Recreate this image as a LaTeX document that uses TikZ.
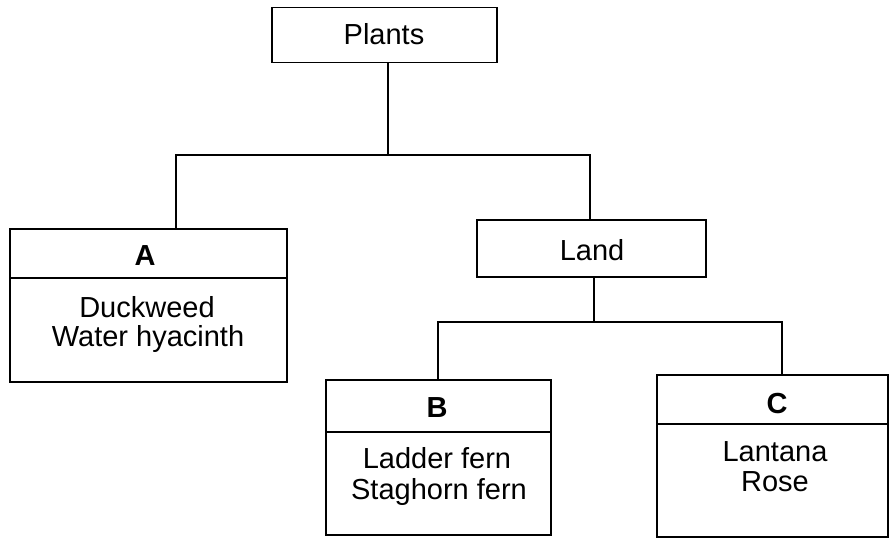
\documentclass[tikz,border=0pt]{standalone}
\usepackage{fontspec}
\setmainfont{Liberation Sans}
\begin{document}
\begin{tikzpicture}[x=1pt,y=-1pt,
  line width=1.5pt,
  box/.style={draw, rectangle, inner sep=0pt, line width=1.5pt},
  lbl/.style={font=\fontsize{29}{31}\selectfont, inner sep=0pt, anchor=base},
  hdr/.style={lbl, font=\fontsize{29}{31}\selectfont\bfseries},
  conn/.style={draw, line width=1.5pt}]
\useasboundingbox (0,0) rectangle (893,543);
% boxes
\node[box, minimum width=225pt, minimum height=55pt] (plants) at (384.5,35) {};
\node[box, minimum width=277pt, minimum height=153pt] (A) at (148.5,305.5) {};
\node[box, minimum width=229pt, minimum height=57pt] (land) at (591.5,248.5) {};
\node[box, minimum width=225pt, minimum height=155pt] (B) at (438.5,457.5) {};
\node[box, minimum width=231pt, minimum height=162pt] (C) at (772.5,456) {};
% dividers
\draw (A.west |- 0,278) -- (A.east |- 0,278);
\draw (B.west |- 0,432) -- (B.east |- 0,432);
\draw (C.west |- 0,424) -- (C.east |- 0,424);
% texts
\node[lbl] (tplants) at (384,45) {Plants};
\node[lbl] (tland) at (592,260) {Land};
\node[hdr] (tA) at (145,265) {A};
\node[lbl] (a1) at (147,317) {Duckweed};
\node[lbl] (a2) at (148,346) {Water hyacinth};
\node[hdr] (tB) at (437,417) {B};
\node[lbl] (b1) at (437,468) {Ladder fern};
\node[lbl] (b2) at (439,499) {Staghorn fern};
\node[hdr] (tC) at (777,413) {C};
\node[lbl] (c1) at (775,461) {Lantana};
\node[lbl] (c2) at (775,491) {Rose};
% connectors
\coordinate (j0) at (388,155);
\coordinate (jA) at (176,155);
\coordinate (jL) at (590,155);
\draw[conn] (plants.south -| j0) -- (j0);
\draw[conn] (jA |- A.north) -- (jA) -- (jL) -- (jL |- land.north);
\coordinate (k0) at (594,322);
\coordinate (kB) at (438,322);
\coordinate (kC) at (782,322);
\draw[conn] (land.south -| k0) -- (k0);
\draw[conn] (kB |- B.north) -- (kB) -- (kC) -- (kC |- C.north);
\end{tikzpicture}
\end{document}
